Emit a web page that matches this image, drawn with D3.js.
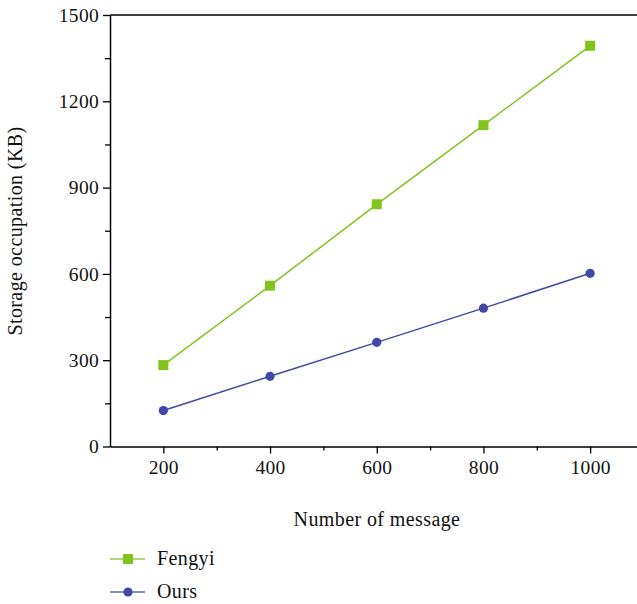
<!DOCTYPE html>
<html>
<head>
<meta charset="utf-8">
<script src="https://cdn.jsdelivr.net/npm/d3@7/dist/d3.min.js"></script>
<style>
  html, body { margin: 0; padding: 0; background: #fff; }
  svg { display: block; }
  text { font-family: "Liberation Serif", "DejaVu Serif", serif; fill: #111; }
</style>
</head>
<body>
<svg id="chart" width="637" height="604"></svg>
<script>
// Message counts on the x axis
const messages = [200, 400, 600, 800, 1000];
// Storage occupation (KB) for each scheme
const fengyi = [283, 559, 842, 1117, 1393];
const ours = [125, 244, 362, 481, 602];
const seriesNames = ["Fengyi", "Ours"];
const xTicks = [200, 400, 600, 800, 1000];
const yTicks = [0, 300, 600, 900, 1200, 1500];

const svg = d3.select("#chart");
const x = d3.scaleLinear().domain([100, 1100]).range([110, 643.5]);
const y = d3.scaleLinear().domain([0, 1500]).range([446.5, 15]);
const fmt = d3.format("d");

const series = [
  { name: seriesNames[0], values: fengyi, color: "#80c41c", shape: "square" },
  { name: seriesNames[1], values: ours, color: "#4148a8", shape: "circle" }
];

// Frame: top border
svg.append("line")
  .attr("x1", x(100)).attr("x2", x(1100))
  .attr("y1", y(1500)).attr("y2", y(1500))
  .attr("stroke", "#000").attr("stroke-width", 1.5);

// Axes
svg.append("g").attr("transform", `translate(0,${y(0)})`)
  .call(d3.axisBottom(x).tickValues(xTicks).tickFormat(fmt).tickSize(7).tickSizeOuter(0).tickPadding(7));
const xMinor = svg.append("g").attr("transform", `translate(0,${y(0)})`)
  .call(d3.axisBottom(x).tickValues([300, 500, 700, 900]).tickSize(4).tickSizeOuter(0).tickFormat(""));
xMinor.select(".domain").remove();

svg.append("g").attr("transform", `translate(${x(100)},0)`)
  .call(d3.axisLeft(y).tickValues(yTicks).tickFormat(fmt).tickSize(7).tickSizeOuter(0).tickPadding(4));
const yMinor = svg.append("g").attr("transform", `translate(${x(100)},0)`)
  .call(d3.axisLeft(y).tickValues([150, 450, 750, 1050, 1350]).tickSize(5).tickSizeOuter(0).tickFormat(""));
yMinor.select(".domain").remove();

svg.selectAll(".domain").attr("stroke", "#000").attr("stroke-width", 1.5);
svg.selectAll(".tick line").attr("stroke", "#000").attr("stroke-width", 1.3);
svg.selectAll(".tick text")
  .style("font-family", '"Liberation Serif", "DejaVu Serif", serif')
  .style("font-size", "19.5px").style("letter-spacing", "0.3px").attr("fill", "#111");

// Axis titles
svg.append("text")
  .attr("x", 377).attr("y", 526)
  .attr("text-anchor", "middle")
  .style("font-size", "20px").style("letter-spacing", "0.4px")
  .text("Number of message");
svg.append("text")
  .attr("transform", "translate(22,231) rotate(-90)")
  .attr("text-anchor", "middle")
  .style("font-size", "20px").style("letter-spacing", "0.4px")
  .text("Storage occupation (KB)");

// Lines and markers
const line = d3.line().x((d, i) => x(messages[i])).y(d => y(d));
function marker(g, s, cx, cy) {
  if (s.shape === "square") {
    g.append("rect").attr("x", cx - 5).attr("y", cy - 5)
      .attr("width", 10).attr("height", 10).attr("fill", s.color);
  } else {
    g.append("circle").attr("cx", cx).attr("cy", cy).attr("r", 4.6).attr("fill", s.color);
  }
}
series.forEach(s => {
  svg.append("path").datum(s.values)
    .attr("d", line).attr("fill", "none")
    .attr("stroke", s.color).attr("stroke-width", 1.5);
  const g = svg.append("g");
  s.values.forEach((v, i) => marker(g, s, x(messages[i]), y(v)));
});

// Legend
const legendY = [559, 592];
series.forEach((s, i) => {
  const g = svg.append("g");
  g.append("line").attr("x1", 110).attr("x2", 145)
    .attr("y1", legendY[i]).attr("y2", legendY[i])
    .attr("stroke", s.color).attr("stroke-width", 1.5).attr("opacity", 0.85);
  marker(g, s, 128, legendY[i]);
  g.append("text").attr("x", 157).attr("y", legendY[i] + 6)
    .style("font-size", "20px").style("letter-spacing", "0.4px").text(s.name);
});
</script>
</body>
</html>
